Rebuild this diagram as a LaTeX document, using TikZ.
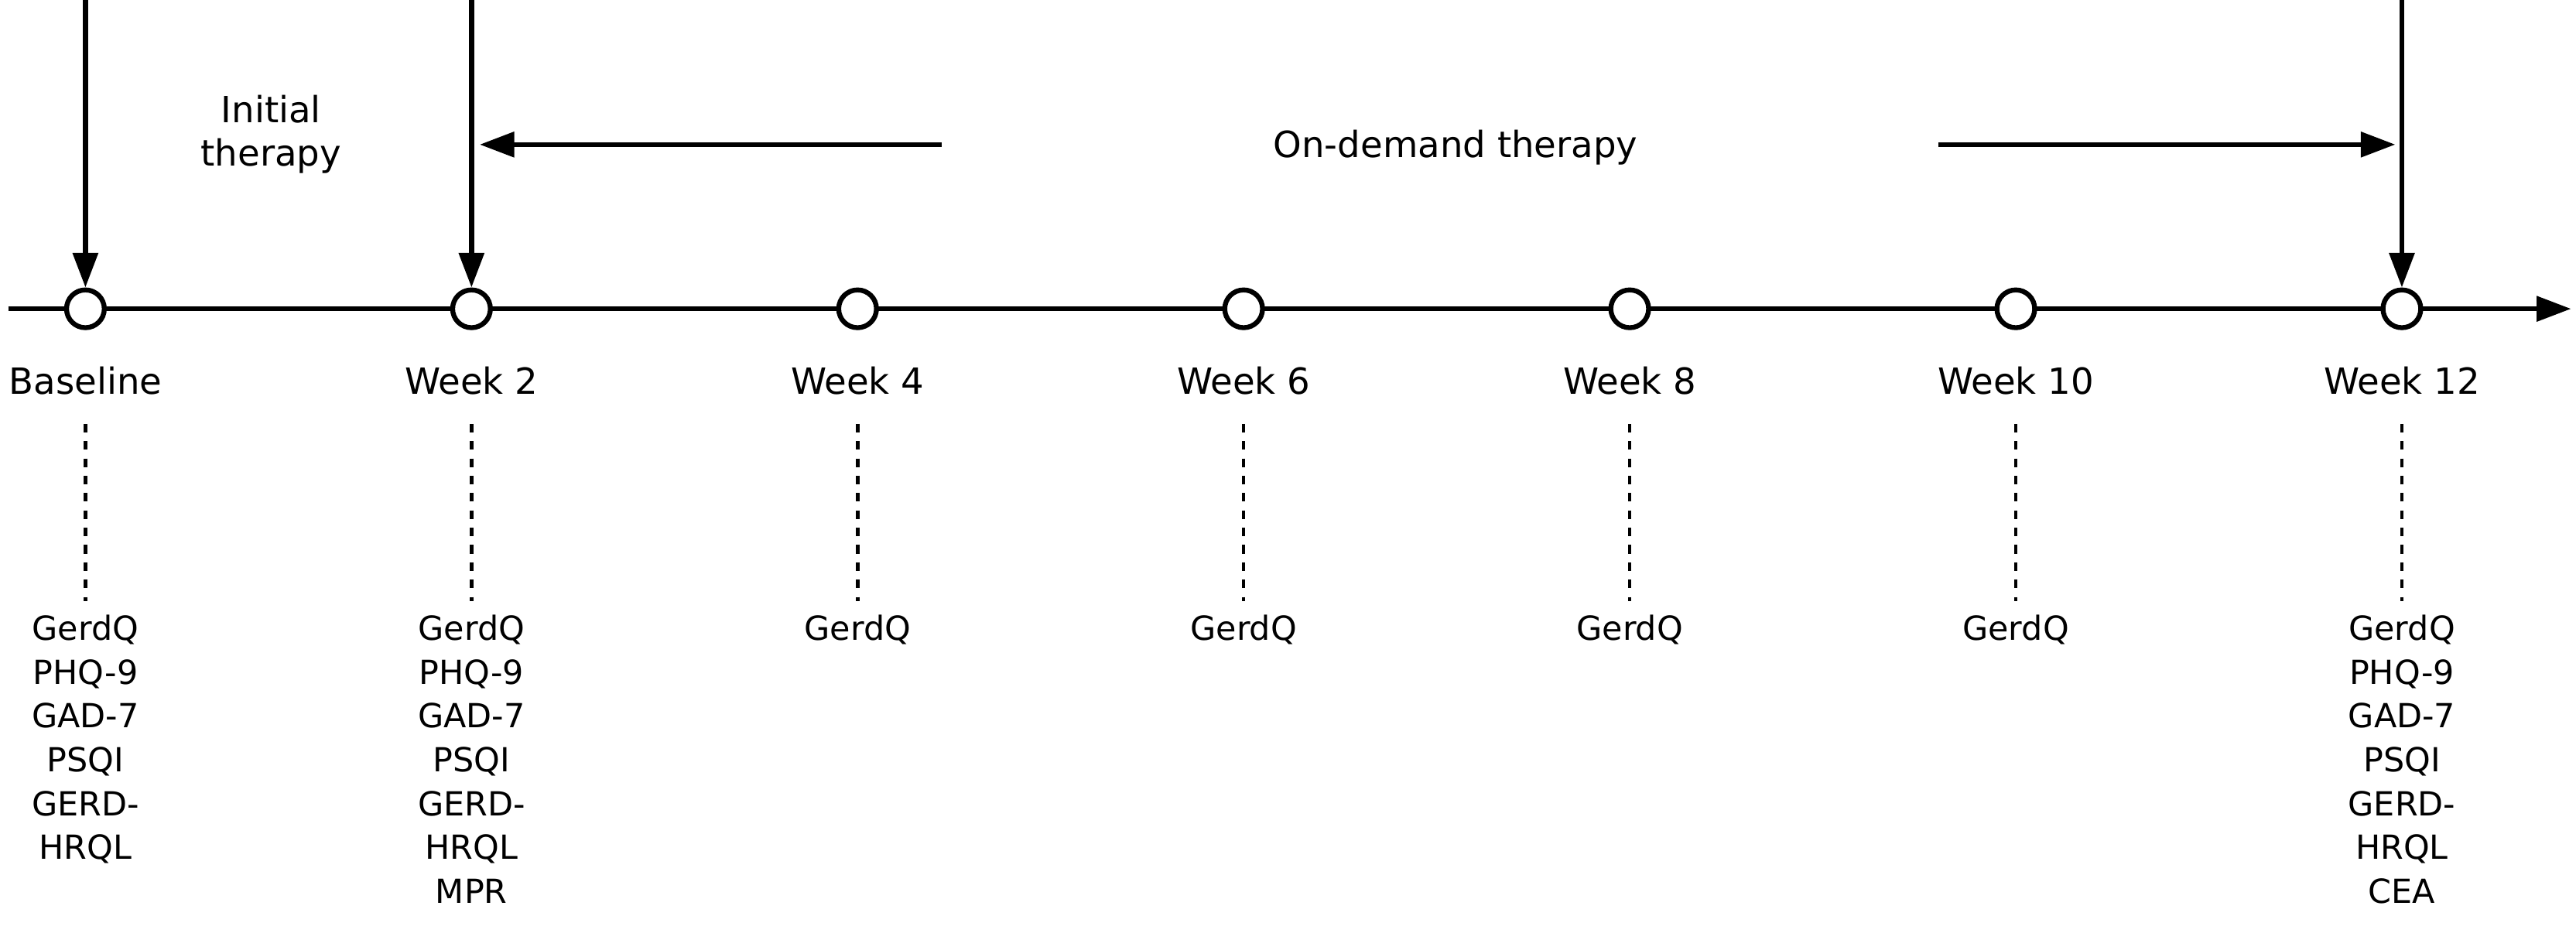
\documentclass[tikz,border=0pt]{standalone}
\usepackage{fontspec}
\setmainfont{DejaVu Sans}
\usetikzlibrary{arrows.meta,positioning}
\tikzset{
  visit/.style={circle,draw,line width=1.7pt,fill=white,minimum size=0.46cm,inner sep=0pt},
  flow/.style={line width=1.7pt,-{Triangle[length=0.42cm,width=0.3cm]}},
  weeklabel/.style={font=\fontsize{12.5}{15}\selectfont},
  measures/.style={font=\fontsize{11.5}{15.2}\selectfont,align=center,anchor=north,inner sep=0pt}
}
\begin{document}
\begin{tikzpicture}[x=0.02cm,y=-0.02cm]
    \useasboundingbox (0,0) rectangle (1568,572);
    % timeline
    \coordinate (start) at (5,188);
    \coordinate (end) at (1565,188);
    \draw[flow] (start) -- (end);
    \foreach \x/\name/\lab in {52/b/Baseline,287/w2/Week 2,522/w4/Week 4,757/w6/Week 6,992/w8/Week 8,1227/w10/Week 10,1462/w12/Week 12}{
        \node[visit] (\name) at (\x,188) {};
        \node[weeklabel] (\name lab) at (\x,232) {\lab};
        \coordinate (\name top) at (\x,258);
        \coordinate (\name bot) at (\x,366);
        \draw[dashed,line width=1.2pt] (\name top) -- (\name bot);
    }
    % therapy phases
    \foreach \name in {b,w2,w12}{
        \coordinate (\name in) at (\name |- 0,0);
        \draw[flow] (\name in) -- (\name.north);
    }
    \node[weeklabel,align=center] (initial) at (165,82) {Initial\\therapy};
    \node[weeklabel] (ondemand) at (886,90) {On-demand therapy};
    \coordinate (lstart) at (573,88);
    \coordinate (lend) at (292,88);
    \coordinate (rstart) at (1180,88);
    \coordinate (rend) at (1458,88);
    \draw[flow] (lstart) -- (lend);
    \draw[flow] (rstart) -- (rend);
    % questionnaires
    \node[measures] (bm) at (52,374) {GerdQ\\PHQ-9\\GAD-7\\PSQI\\GERD-\\HRQL};
    \node[measures] (w2m) at (287,374) {GerdQ\\PHQ-9\\GAD-7\\PSQI\\GERD-\\HRQL\\MPR};
    \node[measures] (w4m) at (522,374) {GerdQ};
    \node[measures] (w6m) at (757,374) {GerdQ};
    \node[measures] (w8m) at (992,374) {GerdQ};
    \node[measures] (w10m) at (1227,374) {GerdQ};
    \node[measures] (w12m) at (1462,374) {GerdQ\\PHQ-9\\GAD-7\\PSQI\\GERD-\\HRQL\\CEA};
\end{tikzpicture}
\end{document}
